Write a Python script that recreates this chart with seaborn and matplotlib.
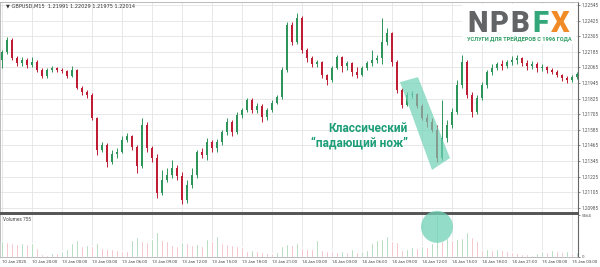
import numpy as np
import pandas as pd
import matplotlib
matplotlib.use("Agg")
import matplotlib.pyplot as plt
import matplotlib.transforms as mtransforms
from matplotlib.patches import Polygon, Circle, Rectangle
import seaborn as sns

# ---------------- data (GBPUSD, 30-min bars) ----------------
time_labels = ["10 Jan 2025", "10 Jan 20:00", "13 Jan 00:00", "13 Jan 03:00", "13 Jan 06:00",
               "13 Jan 09:00", "13 Jan 12:00", "13 Jan 15:00", "13 Jan 18:00", "13 Jan 21:00",
               "14 Jan 00:00", "14 Jan 03:00", "14 Jan 06:00", "14 Jan 09:00", "14 Jan 12:00",
               "14 Jan 15:00", "14 Jan 18:00", "14 Jan 21:00", "15 Jan 00:00", "15 Jan 03:00"]

first_open = 1.22122
close = [1.22183, 1.22275, 1.22137, 1.22099, 1.22122, 1.22083, 1.22106, 1.22045, 1.21999, 1.22045,
         1.22060, 1.22045, 1.22037, 1.21999, 1.22045, 1.21906, 1.21876, 1.21852, 1.21676, 1.21429,
         1.21468, 1.21337, 1.21399, 1.21414, 1.21506, 1.21537, 1.21453, 1.21306, 1.21622, 1.21445,
         1.21368, 1.21099, 1.21199, 1.21237, 1.21291, 1.21230, 1.21045, 1.21160, 1.21237, 1.21414,
         1.21391, 1.21491, 1.21445, 1.21491, 1.21568, 1.21645, 1.21568, 1.21699, 1.21737, 1.21814,
         1.21737, 1.21768, 1.21683, 1.21737, 1.21791, 1.21837, 1.22045, 1.22391, 1.22260, 1.22445,
         1.22198, 1.22137, 1.22091, 1.22106, 1.22006, 1.21968, 1.22060, 1.22145, 1.22075, 1.22099,
         1.22029, 1.22006, 1.22060, 1.22099, 1.22122, 1.22137, 1.22260, 1.22329, 1.22106, 1.21891,
         1.21776, 1.21852, 1.21860, 1.21768, 1.21676, 1.21645, 1.21583, 1.21368, 1.21522, 1.21622,
         1.21722, 1.21929, 1.22106, 1.21852, 1.21722, 1.21829, 1.21929, 1.22029, 1.22060, 1.22091,
         1.22075, 1.22106, 1.22122, 1.22137, 1.22099, 1.22075, 1.22091, 1.22060, 1.22068, 1.22045,
         1.22029, 1.22006, 1.21983, 1.21968, 1.21991, 1.22014]
high = [1.22198, 1.22298, 1.22291, 1.22152, 1.22145, 1.22137, 1.22145, 1.22122, 1.22060, 1.22060,
        1.22075, 1.22068, 1.22060, 1.22045, 1.22075, 1.22052, 1.21922, 1.21891, 1.21868, 1.21683,
        1.21491, 1.21483, 1.21429, 1.21445, 1.21537, 1.21560, 1.21545, 1.21468, 1.21676, 1.21645,
        1.21460, 1.21399, 1.21276, 1.21291, 1.21353, 1.21314, 1.21260, 1.21199, 1.21291, 1.21429,
        1.21445, 1.21522, 1.21506, 1.21514, 1.21583, 1.21676, 1.21660, 1.21722, 1.21752, 1.21829,
        1.21829, 1.21791, 1.21783, 1.21752, 1.21814, 1.21852, 1.22068, 1.22414, 1.22414, 1.22483,
        1.22460, 1.22214, 1.22152, 1.22122, 1.22114, 1.22014, 1.22075, 1.22160, 1.22152, 1.22114,
        1.22106, 1.22068, 1.22075, 1.22114, 1.22198, 1.22160, 1.22445, 1.22368, 1.22337, 1.22122,
        1.21906, 1.21876, 1.21883, 1.21868, 1.21783, 1.21706, 1.21676, 1.21622, 1.21814, 1.21660,
        1.21752, 1.21968, 1.22160, 1.22122, 1.21876, 1.21852, 1.21952, 1.22045, 1.22091, 1.22106,
        1.22122, 1.22122, 1.22152, 1.22160, 1.22145, 1.22122, 1.22114, 1.22106, 1.22091, 1.22075,
        1.22060, 1.22045, 1.22014, 1.21999, 1.22006, 1.22029]
low = [1.22060, 1.22168, 1.22122, 1.22075, 1.22075, 1.22060, 1.22068, 1.22029, 1.21983, 1.21983,
       1.22029, 1.22029, 1.22022, 1.21983, 1.21991, 1.21899, 1.21852, 1.21829, 1.21660, 1.21391,
       1.21414, 1.21299, 1.21322, 1.21368, 1.21406, 1.21491, 1.21429, 1.21253, 1.21291, 1.21414,
       1.21337, 1.21060, 1.21083, 1.21183, 1.21214, 1.21199, 1.21014, 1.21022, 1.21137, 1.21214,
       1.21368, 1.21353, 1.21414, 1.21414, 1.21468, 1.21545, 1.21537, 1.21553, 1.21676, 1.21722,
       1.21714, 1.21714, 1.21645, 1.21660, 1.21722, 1.21783, 1.21822, 1.22029, 1.22237, 1.22245,
       1.22175, 1.22106, 1.22068, 1.22068, 1.21983, 1.21929, 1.21952, 1.22052, 1.22029, 1.22045,
       1.21999, 1.21983, 1.21999, 1.22045, 1.22075, 1.22099, 1.22091, 1.22237, 1.22075, 1.21868,
       1.21752, 1.21768, 1.21829, 1.21752, 1.21660, 1.21606, 1.21568, 1.21337, 1.21353, 1.21491,
       1.21599, 1.21706, 1.21906, 1.21829, 1.21683, 1.21706, 1.21814, 1.21906, 1.22006, 1.22045,
       1.22045, 1.22060, 1.22083, 1.22091, 1.22075, 1.22045, 1.22052, 1.22029, 1.22037, 1.22022,
       1.22014, 1.21991, 1.21960, 1.21945, 1.21952, 1.21975]
volume = [2080, 1950, 1820, 1690, 1820, 1690, 1820, 1170, 390, 260,
          520, 520, 780, 1040, 1820, 2210, 1430, 1560, 1430, 1820,
          1170, 1040, 1040, 910, 780, 780, 2210, 2600, 2080, 1950,
          2340, 3250, 2210, 2080, 1560, 1430, 1950, 1820, 1560, 1690,
          1430, 2340, 2080, 2730, 1820, 1690, 1560, 1430, 1300, 780,
          910, 780, 650, 520, 520, 650, 1430, 1690, 1560, 1820,
          1170, 1040, 1040, 2210, 910, 780, 780, 650, 780, 650,
          1040, 650, 780, 910, 1820, 2210, 2340, 2730, 2080, 1950,
          910, 1040, 1300, 1170, 1430, 1300, 1820, 5564, 2080, 2470,
          2210, 2340, 2470, 3250, 2600, 2080, 910, 1040, 910, 1040,
          910, 780, 650, 520, 390, 390, 260, 520, 780, 650,
          910, 780, 650, 780, 520, 650]
price_ticks = [1.22545, 1.22425, 1.22305, 1.22185, 1.22065, 1.21945, 1.21825,
               1.21705, 1.21585, 1.21465, 1.21345, 1.21225, 1.21105, 1.20985]
vol_max_label = 5564
title_text = "\u25BC GBPUSD,M15  1.21991 1.22029 1.21975 1.22014"
vol_title = "Volumes 755"
note_lines = ["Классический", "\u201Cпадающий нож\u201D"]
logo_letters = ["N", "P", "B", "F", "X"]
logo_sub = "УСЛУГИ ДЛЯ ТРЕЙДЕРОВ С 1996 ГОДА"

# ---------------- style ----------------
GREEN = "#2f9459"
RED = "#bf1d34"
VGREEN = "#8fc99f"
VRED = "#f0a6ad"
GRID = "#e4e4e4"
TEAL = "#6fd2b6"
TEXT_TEAL = "#1d9e76"
SMALL = ["Roboto", "DejaVu Sans"]

sns.set_theme(style="white")
plt.rcParams['font.family'] = ['DejaVu Sans']

W, H = 600, 267
fig = plt.figure(figsize=(6, 2.67), dpi=100)
fig.patch.set_facecolor("white")
ax = fig.add_axes([0.0, 1 - 213 / H, 578 / W, 211 / H])
axv = fig.add_axes([0.0, 1 - 257 / H, 578 / W, 43 / H])

n = len(close)
idx = np.arange(n)
c = np.array(close)
o = np.r_[first_open, c[:-1]]
hi = np.array(high)
lo = np.array(low)
up = c >= o
cols = np.where(up, GREEN, RED)

# candles
ax.vlines(idx, lo, hi, colors=cols, lw=0.7, zorder=3)
body = np.maximum(np.abs(c - o), 0.00003)
ax.bar(idx, body, bottom=np.minimum(o, c), width=0.55, color=cols, lw=0, zorder=4)

ax.set_xlim(-0.4, 115.2)
ax.set_ylim(1.20945, 1.22568)
tick_pos = np.arange(0, n, 6)[:len(time_labels)]
ax.set_xticks(tick_pos)
ax.set_xticklabels([])
ax.tick_params(axis='x', length=0)
ax.yaxis.tick_right()
ax.set_yticks(price_ticks)
ax.set_yticklabels([f"{v:.5f}" for v in price_ticks], family=SMALL)
ax.tick_params(axis='y', labelsize=3.4, colors="#555555", length=1.5, width=0.5, pad=1)
ax.grid(True, color=GRID, lw=0.6, zorder=0)
ax.set_axisbelow(True)

for s in ["left", "top"]:
    ax.spines[s].set_color("#b0b0b0")
    ax.spines[s].set_linewidth(0.6)
ax.spines["right"].set_color("#666666")
ax.spines["right"].set_linewidth(0.8)
ax.spines["bottom"].set_color("#555555")
ax.spines["bottom"].set_linewidth(1.4)

# volume panel via seaborn
vdir = np.r_[["up"], np.where(np.diff(volume) > 0, "up", "down")]
vdf = pd.DataFrame({"bar": idx, "vol": volume, "dir": vdir})
sns.barplot(data=vdf, x="bar", y="vol", hue="dir", palette={"up": VGREEN, "down": VRED},
            native_scale=True, width=0.35, dodge=False, legend=False, errorbar=None,
            saturation=1, ax=axv, zorder=3)
axv.set_xlabel("")
axv.set_ylabel("")
axv.set_xlim(-0.4, 115.2)
vtop = 5700
axv.set_ylim(0, vtop)
axv.set_xticks(tick_pos)
axv.set_xticklabels(time_labels, ha="left", family=SMALL)
axv.tick_params(axis='x', labelsize=3.2, colors="#444444", length=0, pad=2.5)
axv.yaxis.tick_right()
axv.set_yticks([vol_max_label, 0])
axv.set_yticklabels([str(vol_max_label), "0"], family=SMALL)
axv.tick_params(axis='y', labelsize=3.2, colors="#555555", length=1.5, width=0.5, pad=1)
axv.grid(True, axis='x', color=GRID, lw=0.6, zorder=0)
axv.set_axisbelow(True)
axv.spines["top"].set_color("#555555")
axv.spines["top"].set_linewidth(1.4)
axv.spines["right"].set_color("#666666")
axv.spines["right"].set_linewidth(0.8)
for s in ["left", "bottom"]:
    axv.spines[s].set_color("#b0b0b0")
    axv.spines[s].set_linewidth(0.6)
axv.text(0.006, 0.93, vol_title, transform=axv.transAxes, fontsize=3.4, color="#444444",
         va="top", family=SMALL)

# title
fig.text(6 / W, 1 - 3 / H, title_text, fontsize=3.6, color="#333333", va="top", ha="left")

# falling-knife band (data coords)
band = Polygon([(79.6, 1.21952), (83.2, 1.21990), (89.6, 1.21368), (86.0, 1.21276)],
               closed=True, facecolor=TEAL, edgecolor="none", alpha=0.7, zorder=5)
ax.add_patch(band)

# circle on volume spike
trans = fig.dpi_scale_trans + mtransforms.ScaledTranslation(87, 4000, axv.transData)
circ = Circle((0, 0), radius=0.16, transform=trans, facecolor=TEAL, edgecolor="none",
              alpha=0.75, zorder=6, clip_on=False)
axv.add_patch(circ)

# annotation text
for k, (line, yy) in enumerate(zip(note_lines, [128, 143])):
    fig.text(408 / W, 1 - yy / H, line, fontsize=8.6, fontweight="bold", color=TEXT_TEAL,
             ha="right", va="center", family=["Roboto", "DejaVu Sans"])

# logo
fig.patches.append(Rectangle((462 / W, 1 - 44 / H), 114 / W, 40 / H, transform=fig.transFigure,
                             facecolor="white", edgecolor="none", zorder=7))
logo_cols = ["#636466", "#636466", "#636466", "#33a77a", "#f08a26"]
logo_x = [478, 499, 520, 540, 560]
for L, xx, cc in zip(logo_letters, logo_x, logo_cols):
    fig.text(xx / W, 1 - 32 / H, L, fontsize=21, fontweight=900, color=cc, ha="center",
             va="baseline", family=["Roboto", "DejaVu Sans"], zorder=8)
fig.text(519 / W, 1 - 39 / H, logo_sub, fontsize=4.1, fontweight="bold", color="#2e9e62",
         ha="center", va="center", family=["Roboto", "DejaVu Sans"], zorder=8)

fig.savefig("out.png", dpi=100, facecolor="white")
